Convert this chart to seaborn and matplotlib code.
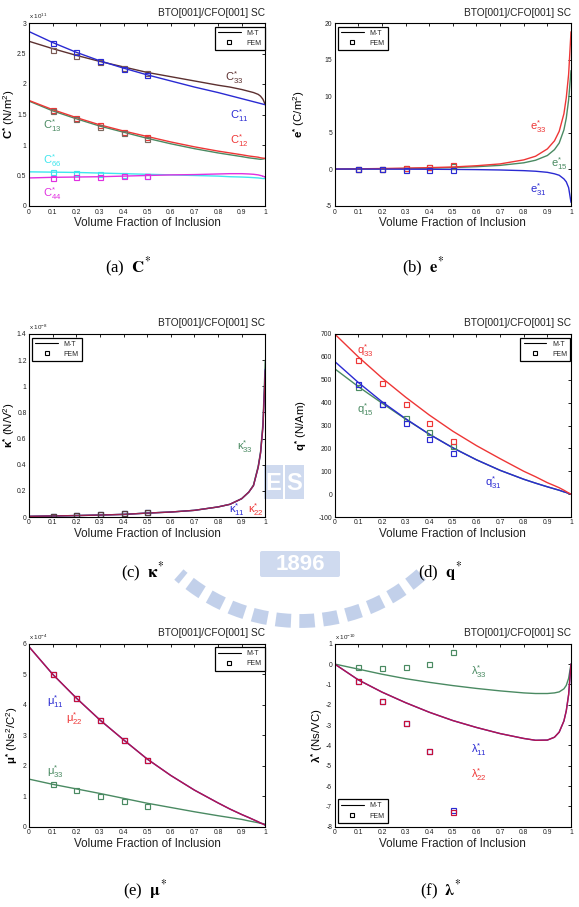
import matplotlib
matplotlib.use("Agg")
import numpy as np
import pandas as pd
import seaborn as sns
import matplotlib.pyplot as plt
from matplotlib.lines import Line2D
from matplotlib.ticker import FormatStrFormatter, MultipleLocator
from matplotlib.patches import Arc, Rectangle, FancyBboxPatch

# ---------------- data ----------------
x_mt = [0.0, 0.1, 0.2, 0.3, 0.4, 0.5, 0.6, 0.7, 0.8, 0.85, 0.9, 0.93, 0.95, 0.97, 0.98, 0.99, 1.0]
x_fem = [0.1, 0.2, 0.3, 0.4, 0.5]

# (a) C*  (x 1e11 N/m^2)
C11_mt = [2.86, 2.68, 2.52, 2.38, 2.26, 2.15, 2.05, 1.95, 1.86, 1.81, 1.76, 1.73, 1.71, 1.69, 1.68, 1.67, 1.66]
C33_mt = [2.70, 2.58, 2.47, 2.37, 2.28, 2.19, 2.12, 2.05, 1.98, 1.95, 1.91, 1.88, 1.86, 1.83, 1.80, 1.75, 1.66]
C12_mt = [1.73, 1.58, 1.45, 1.33, 1.23, 1.14, 1.05, 0.97, 0.90, 0.87, 0.84, 0.82, 0.81, 0.80, 0.79, 0.785, 0.78]
C13_mt = [1.72, 1.56, 1.43, 1.31, 1.21, 1.11, 1.02, 0.94, 0.87, 0.84, 0.81, 0.79, 0.78, 0.77, 0.765, 0.77, 0.78]
C66_mt = [0.56, 0.555, 0.55, 0.54, 0.53, 0.52, 0.51, 0.50, 0.49, 0.48, 0.475, 0.47, 0.465, 0.46, 0.455, 0.45, 0.45]
C44_mt = [0.46, 0.47, 0.475, 0.48, 0.49, 0.50, 0.51, 0.515, 0.525, 0.53, 0.53, 0.525, 0.52, 0.51, 0.50, 0.49, 0.47]
C11_fem = [2.67, 2.52, 2.38, 2.25, 2.14]
C33_fem = [2.56, 2.46, 2.36, 2.26, 2.18]
C12_fem = [1.57, 1.44, 1.32, 1.22, 1.13]
C13_fem = [1.55, 1.42, 1.30, 1.20, 1.10]
C66_fem = [0.55, 0.54, 0.53, 0.51, 0.50]
C44_fem = [0.46, 0.47, 0.48, 0.49, 0.50]

# (b) e*  (C/m^2)
e33_mt = [0.05, 0.08, 0.12, 0.17, 0.24, 0.33, 0.5, 0.75, 1.3, 1.8, 2.8, 3.9, 5.2, 7.6, 9.8, 13.0, 18.8]
e15_mt = [0.03, 0.05, 0.08, 0.12, 0.17, 0.25, 0.37, 0.55, 0.9, 1.25, 1.9, 2.7, 3.6, 5.4, 7.0, 9.5, 13.5]
e31_mt = [0.05, 0.05, 0.04, 0.03, 0.02, 0.0, -0.03, -0.08, -0.17, -0.25, -0.4, -0.6, -0.8, -1.3, -1.7, -2.5, -4.5]
e33_fem = [0.05, 0.12, 0.22, 0.37, 0.55]
e15_fem = [0.0, 0.06, 0.15, 0.28, 0.4]
e31_fem = [0.0, 0.0, -0.05, -0.1, -0.15]

# (c) kappa*  (x 1e-8 N/V^2)
k11_mt = [0.005, 0.008, 0.011, 0.015, 0.02, 0.030, 0.038, 0.051, 0.077, 0.097, 0.14, 0.19, 0.24, 0.38, 0.49, 0.69, 1.13]
k22_mt = [0.005, 0.008, 0.011, 0.015, 0.02, 0.030, 0.038, 0.051, 0.077, 0.097, 0.14, 0.19, 0.24, 0.38, 0.49, 0.69, 1.12]
k33_mt = [0.005, 0.008, 0.011, 0.015, 0.02, 0.030, 0.038, 0.051, 0.077, 0.097, 0.14, 0.19, 0.245, 0.39, 0.50, 0.72, 1.20]
k11_fem = [0.01, 0.014, 0.02, 0.027, 0.042]
k22_fem = [0.01, 0.014, 0.02, 0.027, 0.042]
k33_fem = [0.01, 0.014, 0.02, 0.027, 0.042]

# (d) q*  (N/Am)
q33_mt = [700, 600, 508, 424, 346, 275, 212, 155, 100, 76, 50, 37, 28, 17, 11, 5, 0]
q31_mt = [580, 488, 404, 330, 262, 202, 150, 104, 65, 48, 32, 23, 17, 10, 7, 3, 0]
q15_mt = [548, 470, 398, 328, 262, 203, 150, 104, 65, 48, 32, 23, 17, 10, 7, 3, 0]
q33_fem = [588, 485, 395, 310, 232]
q31_fem = [480, 392, 312, 242, 180]
q15_fem = [470, 395, 332, 270, 210]

# (e) mu*  (x 1e-4 Ns^2/C^2)
mu11_mt = [5.9, 5.0, 4.22, 3.5, 2.85, 2.22, 1.68, 1.2, 0.78, 0.58, 0.4, 0.3, 0.23, 0.16, 0.12, 0.09, 0.05]
mu22_mt = [5.9, 5.0, 4.22, 3.5, 2.85, 2.22, 1.68, 1.2, 0.78, 0.58, 0.4, 0.3, 0.23, 0.16, 0.12, 0.09, 0.05]
mu33_mt = [1.56, 1.39, 1.24, 1.09, 0.93, 0.77, 0.63, 0.49, 0.36, 0.30, 0.24, 0.19, 0.16, 0.13, 0.11, 0.10, 0.08]
mu11_fem = [5.0, 4.22, 3.5, 2.85, 2.18]
mu22_fem = [5.0, 4.22, 3.5, 2.85, 2.18]
mu33_fem = [1.4, 1.2, 1.02, 0.84, 0.69]

# (f) lambda*  (x 1e-10 Ns/VC)
lam11_mt = [0, -0.78, -1.38, -1.9, -2.37, -2.78, -3.12, -3.42, -3.66, -3.75, -3.74, -3.6, -3.35, -2.8, -2.3, -1.5, 0]
lam22_mt = [0, -0.78, -1.38, -1.9, -2.37, -2.78, -3.12, -3.42, -3.66, -3.75, -3.74, -3.6, -3.35, -2.8, -2.3, -1.5, 0]
lam33_mt = [0, -0.25, -0.5, -0.72, -0.9, -1.06, -1.2, -1.32, -1.42, -1.45, -1.45, -1.42, -1.37, -1.22, -1.05, -0.7, 0]
lam11_fem = [-0.85, -1.82, -2.9, -4.27, -7.2]
lam22_fem = [-0.85, -1.84, -2.92, -4.3, -7.3]
lam33_fem = [-0.15, -0.2, -0.15, 0.02, 0.6]

title_text = "BTO[001]/CFO[001] SC"
xlabel_text = "Volume Fraction of Inclusion"
legend_labels = ["M-T", "FEM"]

# ---------------- style ----------------
sns.set_theme(style="white")
plt.rcParams['font.family'] = ['Liberation Sans', 'DejaVu Sans']
plt.rcParams['mathtext.fontset'] = 'custom'
plt.rcParams['mathtext.rm'] = 'Liberation Sans'
plt.rcParams['mathtext.it'] = 'Liberation Sans:italic'
plt.rcParams['mathtext.bf'] = 'Liberation Sans:bold'

BLUE = '#2a2ad2'
RED = '#ee3636'
GREEN = '#4a8a62'
BROWN = '#5c3030'
CYAN = '#3ee6ee'
MAGENTA = '#e030e0'
TXT = '#222222'

fig = plt.figure(figsize=(5.79, 9.07), dpi=100)

# faint emblem watermark (pixel coordinates), drawn behind the panels
wm = fig.add_axes([0, 0, 1, 1], zorder=-5)
wm.set_xlim(0, 579)
wm.set_ylim(907, 0)
wm.axis('off')
wmc = '#a9bde2'
wm.add_patch(Arc((300, 440), 362, 362, theta1=48, theta2=132, lw=10, color=wmc,
                 alpha=0.7, linestyle=(0, (1.1, 0.6))))
wm.add_patch(Rectangle((264, 465), 19, 34, color=wmc, alpha=0.55, lw=0))
wm.add_patch(Rectangle((285, 465), 19, 34, color=wmc, alpha=0.55, lw=0))
wm.text(273.5, 483, "E", color='white', fontsize=17, fontweight='bold', ha='center', va='center')
wm.text(294.5, 483, "S", color='white', fontsize=17, fontweight='bold', ha='center', va='center')
wm.add_patch(FancyBboxPatch((262, 553), 76, 22, boxstyle="round,pad=2", color=wmc, alpha=0.55, lw=0))
wm.text(300, 565, "1896", color='white', fontsize=16, fontweight='bold', ha='center', va='center')

W = 236.3 / 579
H = 183 / 907
lefts = [29 / 579, 334.7 / 579]
bottoms = [(907 - 206) / 907, (907 - 517) / 907, (907 - 826.7) / 907]


def make_ax(row, col):
    ax = fig.add_axes([lefts[col], bottoms[row], W, H])
    ax.patch.set_alpha(0)
    for s in ax.spines.values():
        s.set_color('black')
        s.set_linewidth(0.8)
    ax.tick_params(direction='in', length=2.2, width=0.6, top=True, right=True,
                   labelsize=4.9, pad=1.8, colors='black', labelcolor=TXT)
    ax.set_xlim(0, 1)
    ax.xaxis.set_major_locator(MultipleLocator(0.1))
    ax.xaxis.set_major_formatter(FormatStrFormatter('%g'))
    ax.yaxis.set_major_formatter(FormatStrFormatter('%g'))
    ax.text(1, 1 + 10.5 / 183, title_text, transform=ax.transAxes, ha='right', va='center',
            fontsize=7.3, color=TXT)
    ax.set_xlabel(xlabel_text, fontsize=8.4, labelpad=1.0, color=TXT)
    return ax


def ylab(ax, s, xc_px, col):
    ax.set_ylabel(s, fontsize=8.2, va='center', color='black')
    left_px = 29 if col == 0 else 334.7
    ax.yaxis.set_label_coords((xc_px - left_px) / 236.3, 0.5)


def mt(ax, y, color, alpha=1.0, lw=1.0):
    sns.lineplot(x=x_mt, y=y, ax=ax, color=color, lw=lw, alpha=alpha,
                 estimator=None, sort=False, legend=False)


def fem(ax, y, color):
    sns.lineplot(x=x_fem, y=y, ax=ax, color=color, marker='s', linestyle='',
                 markersize=3.6, markerfacecolor='none', markeredgecolor=color,
                 markeredgewidth=0.85, estimator=None, sort=False, legend=False)


def legend(ax, loc, anchor):
    handles = [Line2D([], [], color='black', lw=0.8),
               Line2D([], [], color='black', marker='s', linestyle='', markersize=3.2,
                      markerfacecolor='none', markeredgewidth=0.8)]
    leg = ax.legend(handles, legend_labels, loc=loc, bbox_to_anchor=anchor, fontsize=5,
                    frameon=True, fancybox=False, edgecolor='black', framealpha=1,
                    handlelength=3.3, handletextpad=0.8, borderpad=0.45, labelspacing=0.45,
                    borderaxespad=0.0)
    leg.get_frame().set_linewidth(0.9)


def exp_text(ax, s):
    ax.text(0.0, 1.012, s, transform=ax.transAxes, ha='left', va='bottom', fontsize=4.5,
            color=TXT)


def lab(ax, x, y, s, color):
    ax.text(x, y, s, color=color, fontsize=8, ha='center', va='center')


# (a) C*
ax = make_ax(0, 0)
for y, c in [(C66_mt, CYAN), (C44_mt, MAGENTA), (C13_mt, GREEN), (C12_mt, RED), (C33_mt, BROWN), (C11_mt, BLUE)]:
    mt(ax, y, c)
for y, c in [(C66_fem, CYAN), (C44_fem, MAGENTA), (C12_fem, RED), (C13_fem, '#7a6a60'), (C33_fem, '#7a5a55'), (C11_fem, BLUE)]:
    fem(ax, y, c)
ax.set_ylim(0, 3)
ax.yaxis.set_major_locator(MultipleLocator(0.5))
ylab(ax, r"$\mathbf{C^{*}}$ (N/m$^{2}$)", 9, 0)
exp_text(ax, r"x 10$^{11}$")
legend(ax, 'upper right', (0.997, 1 - 3.5 / 183))
lab(ax, 0.87, 2.10, r"C$^{*}_{33}$", BROWN)
lab(ax, 0.89, 1.49, r"C$^{*}_{11}$", BLUE)
lab(ax, 0.89, 1.08, r"C$^{*}_{12}$", RED)
lab(ax, 0.10, 1.31, r"C$^{*}_{13}$", GREEN)
lab(ax, 0.10, 0.75, r"C$^{*}_{66}$", CYAN)
lab(ax, 0.10, 0.20, r"C$^{*}_{44}$", MAGENTA)

# (b) e*
ax = make_ax(0, 1)
mt(ax, e15_mt, GREEN)
mt(ax, e33_mt, RED)
mt(ax, e31_mt, BLUE)
fem(ax, e15_fem, GREEN)
fem(ax, e33_fem, RED)
fem(ax, e31_fem, BLUE)
ax.set_ylim(-5, 20)
ax.yaxis.set_major_locator(MultipleLocator(5))
ylab(ax, r"$\mathbf{e^{*}}$ (C/m$^{2}$)", 299, 1)
legend(ax, 'upper left', (0.013, 1 - 3.5 / 183))
lab(ax, 0.86, 5.8, r"e$^{*}_{33}$", RED)
lab(ax, 0.95, 0.8, r"e$^{*}_{15}$", GREEN)
lab(ax, 0.86, -2.8, r"e$^{*}_{31}$", BLUE)

# (c) kappa*
ax = make_ax(1, 0)
mt(ax, k33_mt, GREEN)
mt(ax, k11_mt, BLUE)
mt(ax, k22_mt, '#b02038', alpha=0.85)
fem(ax, k33_fem, GREEN)
fem(ax, k11_fem, BLUE)
fem(ax, k22_fem, '#5a4040')
ax.set_ylim(0, 1.4)
ax.yaxis.set_major_locator(MultipleLocator(0.2))
ylab(ax, r"$\mathbf{\kappa^{*}}$ (N/V$^{2}$)", 9, 0)
exp_text(ax, r"x 10$^{-8}$")
legend(ax, 'upper left', (0.013, 1 - 3.5 / 183))
lab(ax, 0.915, 0.54, r"κ$^{*}_{33}$", GREEN)
lab(ax, 0.88, 0.06, r"κ$^{*}_{11}$", BLUE)
lab(ax, 0.96, 0.06, r"κ$^{*}_{22}$", RED)

# (d) q*
ax = make_ax(1, 1)
mt(ax, q15_mt, GREEN)
mt(ax, q31_mt, BLUE)
mt(ax, q33_mt, RED)
fem(ax, q15_fem, GREEN)
fem(ax, q31_fem, BLUE)
fem(ax, q33_fem, RED)
ax.set_ylim(-100, 700)
ax.yaxis.set_major_locator(MultipleLocator(100))
ylab(ax, r"$\mathbf{q^{*}}$ (N/Am)", 301, 1)
legend(ax, 'upper right', (0.997, 1 - 3.5 / 183))
lab(ax, 0.13, 626, r"q$^{*}_{33}$", RED)
lab(ax, 0.13, 370, r"q$^{*}_{15}$", GREEN)
lab(ax, 0.67, 50, r"q$^{*}_{31}$", BLUE)

# (e) mu*
ax = make_ax(2, 0)
mt(ax, mu33_mt, GREEN)
mt(ax, mu11_mt, BLUE)
mt(ax, mu22_mt, '#c8103a', alpha=0.88)
fem(ax, mu33_fem, GREEN)
fem(ax, mu11_fem, BLUE)
fem(ax, mu22_fem, '#c8103a')
ax.set_ylim(0, 6)
ax.yaxis.set_major_locator(MultipleLocator(1))
ylab(ax, r"$\mathbf{\mu^{*}}$ (Ns$^{2}$/C$^{2}$)", 12, 0)
exp_text(ax, r"x 10$^{-4}$")
legend(ax, 'upper right', (0.997, 1 - 3.5 / 183))
lab(ax, 0.11, 4.1, r"μ$^{*}_{11}$", BLUE)
lab(ax, 0.19, 3.56, r"μ$^{*}_{22}$", RED)
lab(ax, 0.11, 1.8, r"μ$^{*}_{33}$", GREEN)

# (f) lambda*
ax = make_ax(2, 1)
mt(ax, lam33_mt, GREEN)
mt(ax, lam11_mt, BLUE)
mt(ax, lam22_mt, '#c8103a', alpha=0.88)
fem(ax, lam33_fem, GREEN)
fem(ax, lam11_fem, BLUE)
fem(ax, lam22_fem, '#c8103a')
ax.set_ylim(-8, 1)
ax.yaxis.set_major_locator(MultipleLocator(1))
ylab(ax, r"$\mathbf{\lambda^{*}}$ (Ns/VC)", 317, 1)
exp_text(ax, r"x 10$^{-10}$")
legend(ax, 'lower left', (0.013, 4 / 183))
lab(ax, 0.61, -0.36, r"λ$^{*}_{33}$", GREEN)
lab(ax, 0.61, -4.2, r"λ$^{*}_{11}$", BLUE)
lab(ax, 0.61, -5.45, r"λ$^{*}_{22}$", RED)

# captions
captions = [(128, 267, r"(a)  $\mathbf{C}^{*}$"), (423, 267, r"(b)  $\mathbf{e}^{*}$"),
            (143, 572, r"(c)  $\mathbf{\kappa}^{*}$"), (440, 572, r"(d)  $\mathbf{q}^{*}$"),
            (145, 890, r"(e)  $\mathbf{\mu}^{*}$"), (441, 890, r"(f)  $\mathbf{\lambda}^{*}$")]
for cx, cy, s in captions:
    fig.text(cx / 579, 1 - cy / 907, s, ha='center', va='center', fontsize=12,
             family='Liberation Serif', math_fontfamily='stix', color='black')

fig.savefig("out.png", dpi=100)
